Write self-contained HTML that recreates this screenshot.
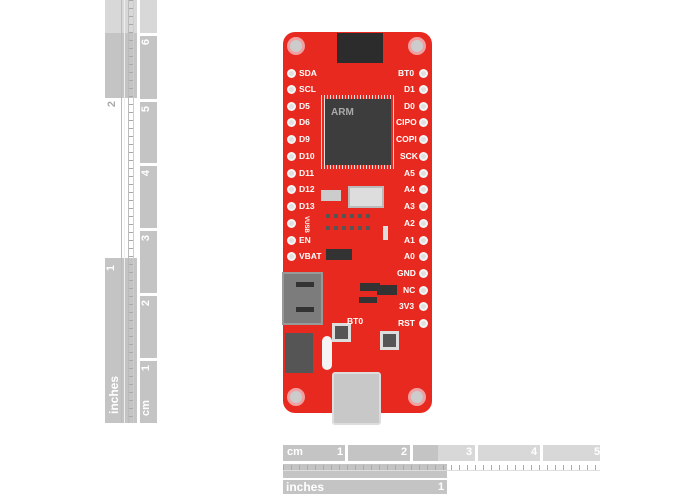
<!DOCTYPE html>
<html><head><style>
*{margin:0;padding:0;box-sizing:border-box}
body{width:700px;height:500px;background:#fff;position:relative;overflow:hidden;font-family:"Liberation Sans",sans-serif}
.a{position:absolute}
.g{background:#c4c4c4}
.gl{background:#d8d8d8}
.rl{color:#fff;font-weight:bold;font-size:11px;position:absolute}
.pin{position:absolute;width:9px;height:9px;border-radius:50%;background:#e0e0e0;border:2px solid #f4f4f4}
.lab{position:absolute;color:#fff;font-weight:bold;font-size:8.5px;line-height:9px}
</style></head><body>
<!-- vertical ruler -->
<div class="a gl" style="left:105px;top:0;width:32px;height:33px"></div>
<div class="a g" style="left:105px;top:33px;width:32px;height:65px"></div>
<div class="a gl" style="left:140px;top:0;width:17px;height:33px"></div>
<div class="a g" style="left:140px;top:36px;width:17px;height:63px"></div>
<div class="a g" style="left:140px;top:102px;width:17px;height:61px"></div>
<div class="a g" style="left:140px;top:166px;width:17px;height:62px"></div>
<div class="a g" style="left:140px;top:231px;width:17px;height:62px"></div>
<div class="a g" style="left:140px;top:296px;width:17px;height:62px"></div>
<div class="a g" style="left:140px;top:361px;width:17px;height:62px"></div>
<div class="a g" style="left:105px;top:258px;width:32px;height:165px"></div>
<div class="a" style="left:121px;top:0;width:1px;height:423px;background:#bbb"></div>
<div class="a" style="left:124px;top:0;width:1px;height:423px;background:#eee"></div>
<div class="a" style="left:128px;top:0;width:1px;height:423px;background:#bbb"></div>
<div class="a" style="left:133px;top:0;width:1px;height:423px;background:#ccc"></div>
<div class="a" style="left:129px;top:0;width:4px;height:423px;background:repeating-linear-gradient(180deg,#aaa 0 1px,transparent 1px 8px)"></div>
<div class="rl" style="left:143px;top:36px;transform:rotate(-90deg)">6</div>
<div class="rl" style="left:143px;top:103px;transform:rotate(-90deg)">5</div>
<div class="rl" style="left:143px;top:167px;transform:rotate(-90deg)">4</div>
<div class="rl" style="left:143px;top:232px;transform:rotate(-90deg)">3</div>
<div class="rl" style="left:143px;top:297px;transform:rotate(-90deg)">2</div>
<div class="rl" style="left:143px;top:362px;transform:rotate(-90deg)">1</div>
<div class="rl" style="left:138px;top:402px;transform:rotate(-90deg)">cm</div>
<div class="rl" style="left:108px;top:262px;transform:rotate(-90deg)">1</div>
<div class="rl" style="left:109px;top:98px;color:#aaa;transform:rotate(-90deg)">2</div>
<div class="rl" style="left:95px;top:388px;transform:rotate(-90deg);font-size:12px">inches</div>
<!-- horizontal ruler -->
<div class="a g" style="left:283px;top:445px;width:62px;height:16px"></div>
<div class="a g" style="left:348px;top:445px;width:62px;height:16px"></div>
<div class="a g" style="left:413px;top:445px;width:62px;height:16px"></div>
<div class="a gl" style="left:438px;top:445px;width:37px;height:16px"></div>
<div class="a gl" style="left:478px;top:445px;width:62px;height:16px"></div>
<div class="a gl" style="left:543px;top:445px;width:57px;height:16px"></div>
<div class="a g" style="left:283px;top:464px;width:164px;height:14px"></div>
<div class="a" style="left:283px;top:465px;width:317px;height:5px;background:repeating-linear-gradient(90deg,#aaa 0 1px,transparent 1px 8px)"></div>
<div class="a" style="left:283px;top:470px;width:317px;height:1px;background:#ddd"></div>
<div class="a g" style="left:283px;top:480px;width:164px;height:14px"></div>
<div class="rl" style="left:287px;top:446px">cm</div>
<div class="rl" style="left:337px;top:446px">1</div>
<div class="rl" style="left:401px;top:446px">2</div>
<div class="rl" style="left:466px;top:446px">3</div>
<div class="rl" style="left:531px;top:446px">4</div>
<div class="rl" style="left:594px;top:446px">5</div>
<div class="rl" style="left:286px;top:480px;font-size:12px">inches</div>
<div class="rl" style="left:438px;top:481px">1</div>
<!-- board -->
<div class="a" style="left:283px;top:32px;width:149px;height:381px;background:#e8291f;border-radius:12px"></div>
<div class="a" style="left:287px;top:37px;width:18px;height:18px;border-radius:50%;background:#ccc;border:3px solid #f0a0a0"></div>
<div class="a" style="left:408px;top:37px;width:18px;height:18px;border-radius:50%;background:#ccc;border:3px solid #f0a0a0"></div>
<div class="a" style="left:287px;top:388px;width:18px;height:18px;border-radius:50%;background:#ccc;border:3px solid #f0a0a0"></div>
<div class="a" style="left:408px;top:388px;width:18px;height:18px;border-radius:50%;background:#ccc;border:3px solid #f0a0a0"></div>
<div class="a" style="left:337px;top:33px;width:46px;height:30px;background:#2c2c2c"></div>
<div class="a" style="left:321px;top:95px;width:74px;height:74px;background:repeating-linear-gradient(90deg,#ddd 0 1px,transparent 1px 3px)"></div>
<div class="a" style="left:325px;top:99px;width:66px;height:66px;background:#3d3d3d"></div>
<div class="a" style="left:331px;top:107px;color:#aaa;font-size:10px;font-weight:bold">ARM</div>
<div class="a" style="left:321px;top:190px;width:20px;height:11px;background:#ccc"></div>
<div class="a" style="left:348px;top:186px;width:36px;height:22px;background:#ddd;border:2px solid #bbb"></div>
<div class="a" style="left:326px;top:214px;width:44px;height:4px;background:repeating-linear-gradient(90deg,#555 0 4px,transparent 4px 8px)"></div>
<div class="a" style="left:326px;top:226px;width:44px;height:4px;background:repeating-linear-gradient(90deg,#555 0 4px,transparent 4px 8px)"></div>
<div class="a" style="left:326px;top:249px;width:26px;height:11px;background:#333"></div>
<div class="a" style="left:383px;top:226px;width:5px;height:14px;background:#ddd"></div>
<div class="a" style="left:360px;top:283px;width:20px;height:8px;background:#333"></div>
<div class="a" style="left:377px;top:285px;width:20px;height:10px;background:#333"></div>
<div class="a" style="left:359px;top:297px;width:18px;height:6px;background:#333"></div>
<div class="a" style="left:332px;top:323px;width:19px;height:19px;background:#555;border:3px solid #ddd"></div>
<div class="a" style="left:380px;top:331px;width:19px;height:19px;background:#555;border:3px solid #ddd"></div>
<div class="a" style="left:282px;top:272px;width:41px;height:53px;background:#7c7c7c;border:2px solid #999"></div>
<div class="a" style="left:296px;top:282px;width:18px;height:5px;background:#333"></div>
<div class="a" style="left:296px;top:307px;width:18px;height:5px;background:#333"></div>
<div class="a" style="left:285px;top:333px;width:28px;height:40px;background:#555"></div>
<div class="a" style="left:322px;top:336px;width:10px;height:34px;border-radius:5px;background:#f4f4f4"></div>
<div class="a" style="left:332px;top:372px;width:49px;height:53px;background:#c8c8c8;border-radius:3px;border:2px solid #ddd"></div>
<div class="lab" style="left:347px;top:317px">BT0</div>
<!-- left pins -->
<div class="pin" style="left:287px;top:69px"></div><div class="lab" style="left:299px;top:69px">SDA</div>
<div class="pin" style="left:287px;top:85px"></div><div class="lab" style="left:299px;top:85px">SCL</div>
<div class="pin" style="left:287px;top:102px"></div><div class="lab" style="left:299px;top:102px">D5</div>
<div class="pin" style="left:287px;top:118px"></div><div class="lab" style="left:299px;top:118px">D6</div>
<div class="pin" style="left:287px;top:135px"></div><div class="lab" style="left:299px;top:135px">D9</div>
<div class="pin" style="left:287px;top:152px"></div><div class="lab" style="left:299px;top:152px">D10</div>
<div class="pin" style="left:287px;top:169px"></div><div class="lab" style="left:299px;top:169px">D11</div>
<div class="pin" style="left:287px;top:185px"></div><div class="lab" style="left:299px;top:185px">D12</div>
<div class="pin" style="left:287px;top:202px"></div><div class="lab" style="left:299px;top:202px">D13</div>
<div class="pin" style="left:287px;top:219px"></div><div class="lab" style="left:297px;top:220px;font-size:6px;transform:rotate(90deg)">VUSB</div>
<div class="pin" style="left:287px;top:236px"></div><div class="lab" style="left:299px;top:236px">EN</div>
<div class="pin" style="left:287px;top:252px"></div><div class="lab" style="left:299px;top:252px">VBAT</div>
<!-- right pins -->
<div class="pin" style="left:419px;top:69px"></div><div class="lab" style="left:398px;top:69px">BT0</div>
<div class="pin" style="left:419px;top:85px"></div><div class="lab" style="left:404px;top:85px">D1</div>
<div class="pin" style="left:419px;top:102px"></div><div class="lab" style="left:404px;top:102px">D0</div>
<div class="pin" style="left:419px;top:118px"></div><div class="lab" style="left:396px;top:118px">CIPO</div>
<div class="pin" style="left:419px;top:135px"></div><div class="lab" style="left:396px;top:135px">COPI</div>
<div class="pin" style="left:419px;top:152px"></div><div class="lab" style="left:400px;top:152px">SCK</div>
<div class="pin" style="left:419px;top:169px"></div><div class="lab" style="left:404px;top:169px">A5</div>
<div class="pin" style="left:419px;top:185px"></div><div class="lab" style="left:404px;top:185px">A4</div>
<div class="pin" style="left:419px;top:202px"></div><div class="lab" style="left:404px;top:202px">A3</div>
<div class="pin" style="left:419px;top:219px"></div><div class="lab" style="left:404px;top:219px">A2</div>
<div class="pin" style="left:419px;top:236px"></div><div class="lab" style="left:404px;top:236px">A1</div>
<div class="pin" style="left:419px;top:252px"></div><div class="lab" style="left:404px;top:252px">A0</div>
<div class="pin" style="left:419px;top:269px"></div><div class="lab" style="left:397px;top:269px">GND</div>
<div class="pin" style="left:419px;top:286px"></div><div class="lab" style="left:403px;top:286px">NC</div>
<div class="pin" style="left:419px;top:302px"></div><div class="lab" style="left:399px;top:302px">3V3</div>
<div class="pin" style="left:419px;top:319px"></div><div class="lab" style="left:398px;top:319px">RST</div>
</body></html>
